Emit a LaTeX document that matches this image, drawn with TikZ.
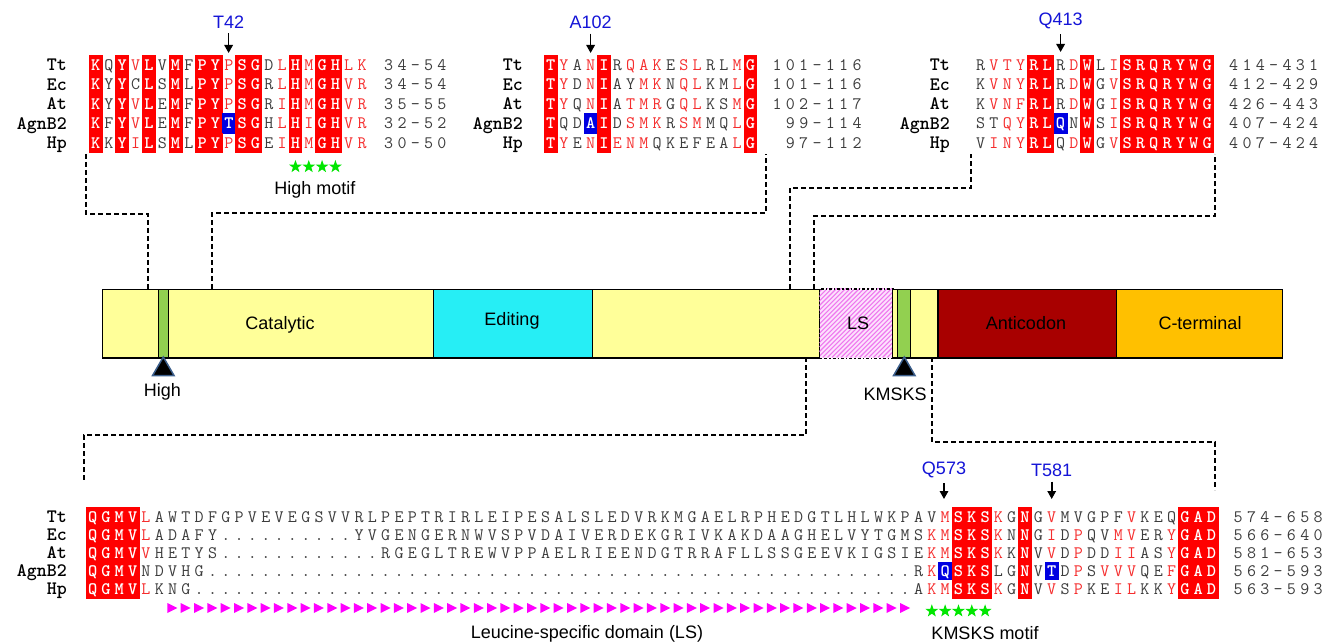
\documentclass[tikz,border=0pt]{standalone}
\usepackage{fontspec}
\setmainfont{Liberation Sans}
\usetikzlibrary{arrows.meta,shapes.geometric}
\definecolor{cred}{RGB}{255,0,0}
\definecolor{tred}{RGB}{245,45,45}
\definecolor{tgray}{RGB}{60,60,60}
\definecolor{cblue}{RGB}{0,0,225}
\definecolor{lblue}{RGB}{20,20,215}
\definecolor{yel}{RGB}{255,255,153}
\definecolor{cyn}{RGB}{38,238,245}
\definecolor{grn}{RGB}{146,208,80}
\definecolor{acred}{RGB}{168,0,0}
\definecolor{ctor}{RGB}{255,192,0}
\definecolor{mag}{RGB}{255,0,255}
\definecolor{stargreen}{RGB}{0,230,0}
\definecolor{lspink}{RGB}{253,225,253}
\definecolor{lsline}{RGB}{238,120,238}
\definecolor{tricol}{RGB}{60,95,140}
\def\seqfont{\ttfamily\fontsize{17.5}{19}\selectfont}
\def\namefont{\ttfamily\bfseries\fontsize{19}{21}\selectfont}
\def\sansfont{\fontsize{18}{21}\selectfont}
\def\cw{13.32}
\def\rowh{19.6}
\newcount\seqcol
\def\seqend{SEQ-END}
\newcommand\seqrow[4]{\global\seqcol=0 \def\seqid{#1}\def\seqx{#2}\def\seqy{#3}\seqparse#4\seqend}
\def\seqparse#1{%
  \ifx#1\seqend\def\seqnext{}%
  \else\ifx#1*\def\seqnext{\seqcons}%
  \else\ifx#1+\def\seqnext{\seqblue}%
  \else\def\seqnext{\seqplain#1\seqparse}%
  \fi\fi\fi\seqnext}
\def\seqplain#1{%
  \ifnum`#1>`Z\relax\uppercase{\def\seqch{#1}}\def\seqcolor{tred}%
  \else\def\seqch{#1}\def\seqcolor{tgray}\fi
  \node[seqtxt,text=\seqcolor] (\seqid-\the\seqcol) at ({\seqx+(\the\seqcol+0.5)*\cw},\seqy) {\seqch};%
  \global\advance\seqcol by 1\relax}
\def\seqcons#1{%
  \node[seqcell,fill=cred] (\seqid-\the\seqcol) at ({\seqx+(\the\seqcol+0.5)*\cw},\seqy) {#1};%
  \global\advance\seqcol by 1\relax\seqparse}
\def\seqblue#1{%
  \node[seqcell,fill=cblue] (\seqid-\the\seqcol) at ({\seqx+(\the\seqcol+0.5)*\cw},\seqy) {#1};%
  \global\advance\seqcol by 1\relax\seqparse}
\tikzset{
  seqtxt/.style={inner sep=0pt, font=\seqfont, text height=12.9pt, text depth=2.2pt},
  seqcell/.style={seqtxt, text=white, font=\seqfont\bfseries, minimum width=\cw pt+0.6pt, minimum height=\rowh pt+0.6pt},
  namelab/.style={inner sep=0pt, font=\namefont, text height=13.8pt, text depth=2.2pt, anchor=east},
  bluelab/.style={inner sep=0pt, font=\sansfont, text=lblue},
  plainlab/.style={inner sep=0pt, font=\sansfont, text=black},
  arr/.style={-{Triangle[length=8pt,width=8.5pt]}, line width=1.6pt, shorten <=5pt},
  conn/.style={line width=1.2pt, dash pattern=on 5pt off 3pt},
  seg/.style={draw=black, line width=1.3pt, inner sep=0pt, minimum height=68.3pt, anchor=north west},
  starn/.style={star, star points=5, star point ratio=2.5, fill=stargreen, draw=none, minimum size=13.5pt, inner sep=0pt},
  marker/.style={fill=black, draw=tricol, line width=1.5pt, line join=miter}
}
\begin{document}
\begin{tikzpicture}[x=1pt,y=-1pt]
\useasboundingbox (0,0) rectangle (1323,644);
% ---------------- dashed connectors ----------------
\coordinate (c1s) at (86,154); \coordinate (c1m) at (148,214); \coordinate (c1e) at (148,289);
\coordinate (c2s) at (212,289); \coordinate (c2m) at (766,213); \coordinate (c2e) at (766,154);
\coordinate (c3s) at (790,289); \coordinate (c3m) at (971,188); \coordinate (c3e) at (971,154);
\coordinate (c4s) at (814,289); \coordinate (c4m) at (1215,216); \coordinate (c4e) at (1215,154);
\coordinate (c5s) at (806,357); \coordinate (c5m) at (84,435); \coordinate (c5e) at (84,482);
\coordinate (c6s) at (932,357); \coordinate (c6m) at (1215,442); \coordinate (c6e) at (1215,490);
\draw[conn] (c1s) |- (c1m) -- (c1e);
\draw[conn] (c2s) |- (c2m) -- (c2e);
\draw[conn] (c3s) |- (c3m) -- (c3e);
\draw[conn] (c4s) |- (c4m) -- (c4e);
\draw[conn] (c5s) |- (c5m) -- (c5e);
\draw[conn] (c6s) |- (c6m) -- (c6e);
% ---------------- domain bar ----------------
\node[seg, fill=yel, minimum width=331.3pt] (dcat) at (101.7,289) {};
\node[seg, fill=cyn, minimum width=159pt] (dedit) at (433,289) {};
\node[seg, fill=yel, minimum width=227.3pt] (dcat2) at (592,289) {};
\node[seg, draw=none, fill=lspink, minimum width=72.4pt] (dls) at (819.3,289) {};
\begin{scope}
\clip (dls.north west) rectangle (dls.south east);
\foreach \k in {0,...,32} \draw[lsline, line width=1.1pt] ({819.3-70+\k*4.6},357.3) -- ++(70,-70);
\end{scope}
\draw[line width=1.3pt, dash dot] (dls.north west) rectangle (dls.south east);
\node[seg, fill=yel, minimum width=45.6pt] (dcat3) at (891.7,289) {};
\node[seg, fill=acred, minimum width=178.7pt] (dac) at (937.3,289) {};
\node[seg, fill=ctor, minimum width=165.7pt] (dct) at (1116,289) {};
\node[seg, fill=grn, minimum width=10pt] (dhigh) at (158,289) {};
\node[seg, fill=grn, minimum width=13.3pt] (dkms) at (896.7,289) {};
\node[plainlab] (tcat) at (280,325) {Catalytic};
\node[plainlab] (tedit) at (512,321) {Editing};
\node[plainlab] (tls) at (858,323) {LS};
\node[plainlab] (tac) at (1026,323) {Anticodon};
\node[plainlab] (tct) at (1200,323) {C-terminal};
\filldraw[marker] (163.3,357) -- (174,375.5) -- (152.6,375.5) -- cycle;
\filldraw[marker] (904.3,357) -- (915,375.5) -- (893.6,375.5) -- cycle;
\node[plainlab] (thigh) at (162.5,392) {High};
\node[plainlab] (tkms) at (895,394) {KMSKS};
% ---------------- top-left alignment ----------------
\def\rowh{19.6}
\node[namelab] (tln1) at (67,64.8) {Tt};
\node[namelab] (tln2) at (67,84.4) {Ec};
\node[namelab] (tln3) at (67,104) {At};
\node[namelab] (tln4) at (67,123.6) {AgnB2};
\node[namelab] (tln5) at (67,143.2) {Hp};
\seqrow{tl1}{89}{64.8}{*KQ*Yv*LV*MF*P*Yp*S*GDl*Hm*G*Hlk}
\seqrow{tl2}{89}{84.4}{*KY*YC*LS*ML*P*Yp*S*GRl*Hm*G*Hvr}
\seqrow{tl3}{89}{104}{*KY*Yv*LE*MF*P*Yp*S*GRi*Hm*G*Hvr}
\seqrow{tl4}{89}{123.6}{*KF*Yv*LE*MF*P*Y+T*S*GHl*Hi*G*Hvr}
\seqrow{tl5}{89}{143.2}{*KK*Yi*LS*ML*P*Yp*S*GEi*Hm*G*Hvr}
\seqrow{tlr1}{382.04}{64.8}{34-54}
\seqrow{tlr2}{382.04}{84.4}{34-54}
\seqrow{tlr3}{382.04}{104}{35-55}
\seqrow{tlr4}{382.04}{123.6}{32-52}
\seqrow{tlr5}{382.04}{143.2}{30-50}
\node[bluelab] (lT42) at (228.6,22) {T42};
\coordinate (eT42) at (228.6,53);
\draw[arr] (lT42.south) -- (eT42);
\foreach \c in {15,...,18} \node[starn] (sh\c) at ({89+(\c+0.5)*13.32},166.7) {};
\node[plainlab] (thm) at (315,190) {High motif};
% ---------------- top-middle alignment ----------------
\node[namelab] (tmn1) at (523,64.8) {Tt};
\node[namelab] (tmn2) at (523,84.4) {Ec};
\node[namelab] (tmn3) at (523,104) {At};
\node[namelab] (tmn4) at (523,123.6) {AgnB2};
\node[namelab] (tmn5) at (523,143.2) {Hp};
\seqrow{tm1}{544}{64.8}{*TyAn*IRqakEslRLm*G}
\seqrow{tm2}{544}{84.4}{*TyDn*IAYmkNqlKMl*G}
\seqrow{tm3}{544}{104}{*TyQn*IAtmrGqlKSm*G}
\seqrow{tm4}{544}{123.6}{*TQD+A*IDsmkRsmMQl*G}
\seqrow{tm5}{544}{143.2}{*TyEn*IenmQKEFEAl*G}
\seqrow{tmr1}{770.44}{64.8}{101-116}
\seqrow{tmr2}{770.44}{84.4}{101-116}
\seqrow{tmr3}{770.44}{104}{102-117}
\seqrow{tmr4}{783.76}{123.6}{99-114}
\seqrow{tmr5}{783.76}{143.2}{97-112}
\node[bluelab] (lA102) at (590.6,22) {A102};
\coordinate (eA102) at (590.6,53);
\draw[arr] (lA102.south) -- (eA102);
% ---------------- top-right alignment ----------------
\node[namelab] (trn1) at (950,64.8) {Tt};
\node[namelab] (trn2) at (950,84.4) {Ec};
\node[namelab] (trn3) at (950,104) {At};
\node[namelab] (trn4) at (950,123.6) {AgnB2};
\node[namelab] (trn5) at (950,143.2) {Hp};
\seqrow{tr1}{974}{64.8}{Rvty*R*LRd*WLi*S*R*Q*R*Y*W*G}
\seqrow{tr2}{974}{84.4}{Kvny*R*LRd*WGv*S*R*Q*R*Y*W*G}
\seqrow{tr3}{974}{104}{Kvnf*R*LRd*WGi*S*R*Q*R*Y*W*G}
\seqrow{tr4}{974}{123.6}{STqy*R*L+QN*WSi*S*R*Q*R*Y*W*G}
\seqrow{tr5}{974}{143.2}{Viny*R*LQd*WGv*S*R*Q*R*Y*W*G}
\seqrow{trr1}{1227.08}{64.8}{414-431}
\seqrow{trr2}{1227.08}{84.4}{412-429}
\seqrow{trr3}{1227.08}{104}{426-443}
\seqrow{trr4}{1227.08}{123.6}{407-424}
\seqrow{trr5}{1227.08}{143.2}{407-424}
\node[bluelab] (lQ413) at (1060.6,21) {Q413};
\coordinate (eQ413) at (1060.6,52);
\draw[arr] (lQ413.south) -- (eQ413);
% ---------------- bottom alignment ----------------
\def\rowh{18.1}
\node[namelab] (bn1) at (67,516.75) {Tt};
\node[namelab] (bn2) at (67,534.85) {Ec};
\node[namelab] (bn3) at (67,552.95) {At};
\node[namelab] (bn4) at (67,571.05) {AgnB2};
\node[namelab] (bn5) at (67,589.15) {Hp};
\seqrow{b1}{86}{516.75}{*Q*G*M*VlAWTDFGPVEVEGSVVRLPEPTRIRLEIPESALSLEDVRKMGAELRPHEDGTLHLWKPAVm*S*K*SkG*NGvMVGPFvKEQ*G*A*D}
\seqrow{b2}{86}{534.85}{*Q*G*M*VlADAFY .......... YVGENGERNWVSPVDAIVERDEKGRIVKAKDAAGHELVYTGMSkm*S*K*SkN*NGiDpQVmvERy*G*A*D}
\seqrow{b3}{86}{552.95}{*Q*G*M*VvHETYS .......... .. RGEGLTREWVPPAELRIEENDGTRRAFLLSSGEEVKIGSIEkm*S*K*SkK*NVvDpDDiiASy*G*A*D}
\seqrow{b4}{86}{571.05}{*Q*G*M*VNDVHG .......... .......... .......... .......... .......... ... Rk+Q*S*K*SLG*NV+TDpSvvvQEf*G*A*D}
\seqrow{b5}{86}{589.15}{*Q*G*M*VlKNG .......... .......... .......... .......... .......... .... Akm*S*K*SkG*NVvSpKEilKKy*G*A*D}
\seqrow{br1}{1231.52}{516.75}{574-658}
\seqrow{br2}{1231.52}{534.85}{566-640}
\seqrow{br3}{1231.52}{552.95}{581-653}
\seqrow{br4}{1231.52}{571.05}{562-593}
\seqrow{br5}{1231.52}{589.15}{563-593}
\node[bluelab] (lQ573) at (944,470) {Q573};
\coordinate (eQ573) at (944,499);
\draw[arr] (lQ573.south) -- (eQ573);
\node[bluelab] (lT581) at (1051.7,470) {T581};
\coordinate (eT581) at (1051.7,499);
\draw[arr] (lT581.south) -- (eT581);
\foreach \c in {6,...,61} \fill[mag] ({86+\c*13.32+1.5},603) -- ++(10,5) -- ++(-10,5) -- cycle;
\foreach \c in {63,...,67} \node[starn] (sk\c) at ({86+(\c+0.5)*13.32},611) {};
\node[plainlab] (tlsd) at (587,634) {Leucine-specific domain (LS)};
\node[plainlab] (tkm) at (985,633) {KMSKS motif};
\end{tikzpicture}
\end{document}
